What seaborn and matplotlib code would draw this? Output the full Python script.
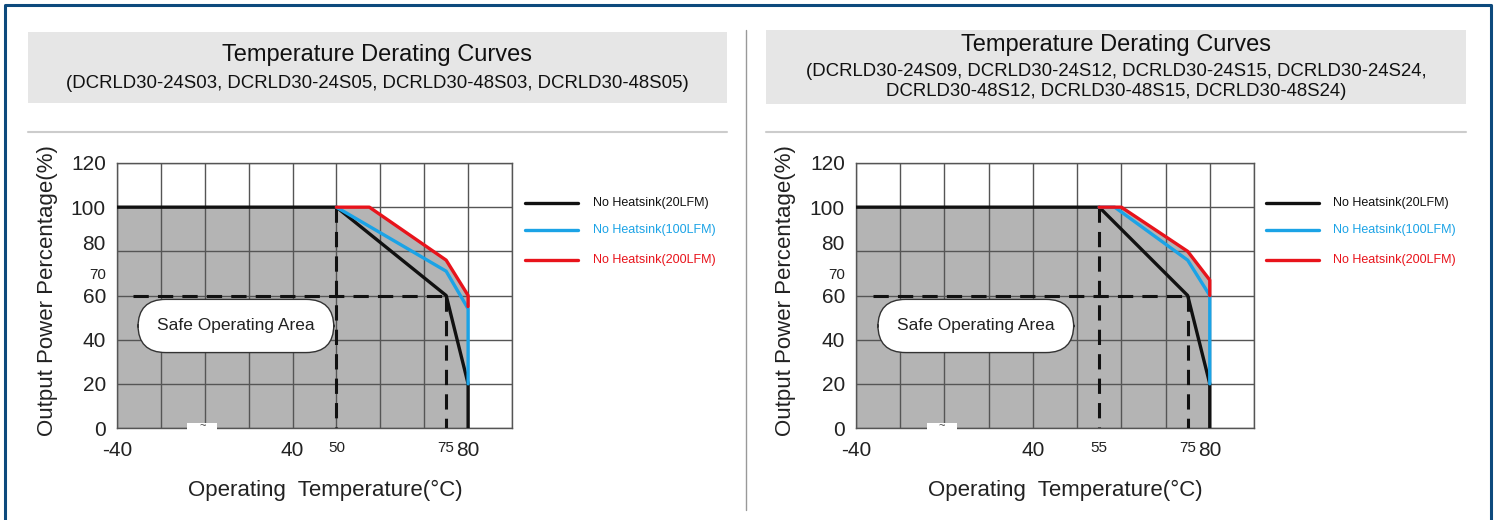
import numpy as np
import matplotlib.pyplot as plt
import matplotlib.patches as mpatches
from matplotlib.lines import Line2D
import seaborn as sns

# ---- values ----
titles = ["Temperature Derating Curves", "Temperature Derating Curves"]
subtitles = [["(DCRLD30-24S03, DCRLD30-24S05, DCRLD30-48S03, DCRLD30-48S05)"],
             ["(DCRLD30-24S09, DCRLD30-24S12, DCRLD30-24S15, DCRLD30-24S24,",
              "DCRLD30-48S12, DCRLD30-48S15, DCRLD30-48S24)"]]
series_names = ["No Heatsink(20LFM)", "No Heatsink(100LFM)", "No Heatsink(200LFM)"]
series_colors = ["#111111", "#1ba3e6", "#e8131b"]

# left chart (24S03 / 24S05 / 48S03 / 48S05)
left_t_20 = [-40, 50, 75, 80, 80]
left_p_20 = [100, 100, 60, 20, 0]
left_t_100 = [50, 75, 80, 80]
left_p_100 = [100, 71, 54, 20]
left_t_200 = [50, 57.5, 75, 80, 80]
left_p_200 = [100, 100, 76, 60, 55]
left_derate_start = 50

# right chart (24S09 ... 48S24)
right_t_20 = [-40, 55, 75, 80, 80]
right_p_20 = [100, 100, 60, 20, 0]
right_t_100 = [55, 58.5, 75, 80, 80]
right_p_100 = [100, 100, 76, 60, 20]
right_t_200 = [55, 60, 75, 80, 80]
right_p_200 = [100, 100, 80, 67, 60]
right_derate_start = 55

knee_temp = 75
knee_power = 60
dash_from = -32.5

grid_temps = [-40, -20, 0, 20, 40, 50, 60, 70, 80, 90]
grid_power = [0, 20, 40, 60, 80, 100, 120]
ytick_pos = [0, 20, 40, 60, 70, 84, 100, 120]
ytick_lab = ["0", "20", "40", "60", "70", "80", "100", "120"]
ytick_small = ["70"]
small_size = 11

W, H = 1497, 520


def fx(px):
    return px / W


def fy(py):
    return 1 - py / H


# broken temperature axis: -40..40 squeezed into 4 cells, 10 C per cell above 40
def fwd(t):
    t = np.asarray(t, dtype=float)
    return np.where(t < 40, (t + 40) / 20.0, 4 + (t - 40) / 10.0)


def inv(c):
    c = np.asarray(c, dtype=float)
    return np.where(c < 4, c * 20.0 - 40, 40 + (c - 4) * 10.0)


sns.set_theme(style="white")
plt.rcParams['font.family'] = ['Liberation Sans', 'DejaVu Sans']

fig = plt.figure(figsize=(W / 100, H / 100), dpi=100)


def draw_panel(ax, t20, p20, t100, p100, t200, p200, derate_start, xlabels):
    ax.set_xscale('function', functions=(fwd, inv))
    ax.set_xlim(-40, 90)
    ax.set_ylim(0, 120)
    ax.set_axisbelow('line')

    # safe operating area under the 200LFM envelope
    env_t = [t20[0], t20[0]] + t200 + [t200[-1]]
    env_p = [0, p20[0]] + p200 + [0]
    ax.fill(env_t, env_p, color="#b4b4b4", lw=0, zorder=1)

    dash = (0, (5, 3))
    ax.plot([dash_from, knee_temp], [knee_power, knee_power], color="#111111", lw=2.2, ls=dash, zorder=3)
    ax.plot([derate_start, derate_start], [p20[0], 0], color="#111111", lw=2.2, ls=dash, zorder=3)
    ax.plot([knee_temp, knee_temp], [knee_power, 0], color="#111111", lw=2.2, ls=dash, zorder=3)

    for t, p, c in zip([t20, t100, t200], [p20, p100, p200], series_colors):
        sns.lineplot(x=t, y=p, ax=ax, color=c, lw=2.4, sort=False, estimator=None,
                     legend=False, zorder=4)

    ax.xaxis.remove_overlapping_locs = False
    ax.yaxis.remove_overlapping_locs = False
    ax.set_xticks(grid_temps, minor=True)
    ax.set_yticks(grid_power, minor=True)
    ax.grid(False, which='major')
    ax.grid(True, which='minor', color="#555555", lw=1)
    ax.tick_params(which='both', length=0)
    ax.tick_params(axis='x', pad=9, colors="#222222")
    ax.tick_params(axis='y', pad=8, colors="#222222")

    xt_pos = [-40, 40, derate_start, knee_temp, 80]
    ax.set_xticks(xt_pos, xlabels)
    for lbl in ax.get_xticklabels():
        lbl.set_fontsize(small_size if lbl.get_text() in (str(derate_start), str(knee_temp)) else 15)
    ax.set_yticks(ytick_pos, ytick_lab)
    for lbl in ax.get_yticklabels():
        lbl.set_fontsize(small_size if lbl.get_text() in ytick_small else 15)

    for s in ax.spines.values():
        s.set_color("#555555")
        s.set_linewidth(1)

    ax.set_xlabel("Operating  Temperature(°C)", fontsize=16, color="#222222")
    ax.xaxis.set_label_coords(0.527, -0.234)
    ax.xaxis.label.set_va('center')
    ax.set_ylabel("Output Power Percentage(%)", fontsize=16, color="#222222")
    ax.yaxis.set_label_coords(-0.177, 0.52)
    ax.yaxis.label.set_va('center')

    # axis break marker
    ax.add_patch(mpatches.Rectangle((0.178, -0.01), 0.076, 0.03, transform=ax.transAxes,
                                    facecolor="white", edgecolor="none", clip_on=False, zorder=5))
    ax.text(0.216, 0.008, "~", transform=ax.transAxes, ha='center', va='center',
            fontsize=8, color="#444444", zorder=6)

    ax.text(0.301, 0.385, "Safe Operating Area", transform=ax.transAxes, ha='center', va='center',
            fontsize=12.5, color="#222222", zorder=6,
            bbox=dict(boxstyle="round,pad=1.1,rounding_size=1.6", facecolor="white",
                      edgecolor="#333333", lw=1))


ax_l = fig.add_axes([fx(117), fy(428), fx(512) - fx(117), fy(163) - fy(428)])
draw_panel(ax_l, left_t_20, left_p_20, left_t_100, left_p_100, left_t_200, left_p_200,
           left_derate_start, ["-40", "40", "50", "75", "80"])

ax_r = fig.add_axes([fx(856), fy(428), fx(1254) - fx(856), fy(163) - fy(428)])
draw_panel(ax_r, right_t_20, right_p_20, right_t_100, right_p_100, right_t_200, right_p_200,
           right_derate_start, ["-40", "40", "55", "75", "80"])

# legends, drawn beside each chart
for x_line, x_text in [(525, 593), (1266, 1333)]:
    for name, col, py in zip(series_names, series_colors, [203, 230, 260]):
        fig.add_artist(Line2D([fx(x_line), fx(x_line + 53)], [fy(py), fy(py)], color=col, lw=2.4))
        fig.text(fx(x_text), fy(py), name, color=col, fontsize=9, va='center', ha='left')

# title boxes
fig.add_artist(mpatches.Rectangle((fx(28), fy(103)), fx(727) - fx(28), fy(32) - fy(103),
                                  facecolor="#e6e6e6", edgecolor="none"))
fig.add_artist(mpatches.Rectangle((fx(766), fy(104)), fx(1466) - fx(766), fy(30) - fy(104),
                                  facecolor="#e6e6e6", edgecolor="none"))
fig.text(fx(377), fy(55), titles[0], fontsize=17, ha='center', va='center', color="#111111")
fig.text(fx(377), fy(83), subtitles[0][0], fontsize=13.4, ha='center', va='center', color="#111111")
fig.text(fx(1116), fy(45), titles[1], fontsize=17, ha='center', va='center', color="#111111")
fig.text(fx(1116), fy(72), subtitles[1][0], fontsize=13.4, ha='center', va='center', color="#111111")
fig.text(fx(1116), fy(92), subtitles[1][1], fontsize=13.4, ha='center', va='center', color="#111111")

# thin rules under titles, panel separator, outer frame
fig.add_artist(Line2D([fx(28), fx(727)], [fy(132), fy(132)], color="#cccccc", lw=1.5))
fig.add_artist(Line2D([fx(766), fx(1466)], [fy(132), fy(132)], color="#cccccc", lw=1.5))
fig.add_artist(Line2D([fx(746), fx(746)], [fy(30), fy(510)], color="#999999", lw=1))
fig.add_artist(Line2D([fx(5), fx(5), fx(1491), fx(1491)], [0, fy(5), fy(5), 0],
                      color="#0d4a7d", lw=2.2))

fig.savefig("out.png", dpi=100)
